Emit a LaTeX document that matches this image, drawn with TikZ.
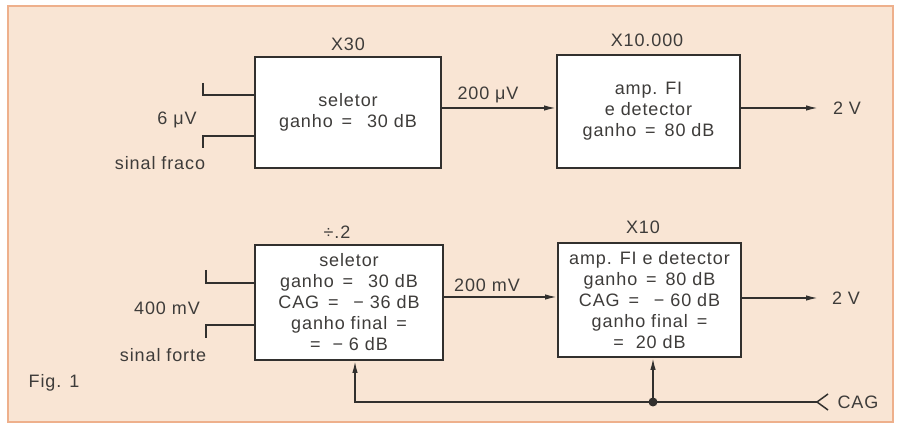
\documentclass[tikz,border=0pt]{standalone}
\usepackage{fontspec}
\setmainfont{Liberation Sans}[LetterSpace=5]
\usetikzlibrary{arrows.meta}
\definecolor{paper}{RGB}{249,229,212}
\definecolor{frame}{RGB}{238,176,140}
\definecolor{ink}{RGB}{50,48,46}
\definecolor{txt}{RGB}{62,60,58}
\tikzset{
  blk/.style={draw=ink, line width=2pt, fill=white, align=center, text=txt,
    inner sep=0pt, font=\fontsize{18}{21}\selectfont},
  lbl/.style={text=txt, font=\fontsize{18}{21}\selectfont, inner sep=0pt},
  wire/.style={draw=ink, line width=1.5pt},
  arr/.style={wire, -{Latex[length=12pt,width=5.5pt]}},
}
\begin{document}
\begin{tikzpicture}[x=1pt,y=-1pt]
\useasboundingbox (0,0) rectangle (897,427);
\fill[white] (0,0) rectangle (897,427);
\draw[frame, fill=paper, line width=1.2pt] (8,6) rectangle (893,422);

% top row
\node[blk, minimum width=186pt, minimum height=111pt] (b1) at (348,112.5)
  {seletor\\ganho \,=\, \ 30 dB};
\node[blk, minimum width=183pt, minimum height=113pt] (b2) at (648.5,111.5)
  {amp. FI\\e detector\\ganho \,=\, 80 dB};
\node[lbl] (g1) at (348,44) {X30};
\node[lbl] (g2) at (647,40) {X10.000};

\coordinate (ya) at (0,108);
\draw[arr] (b1.east |- ya) -- (b2.west |- ya);
\node[lbl] (v1) at (488,95) {200 μV};
\coordinate (o1) at (818,108);
\draw[arr] (b2.east |- o1) -- (o1);
\node[lbl] (o1t) at (847,108) {2 V};

\coordinate (i1a) at (203,83);
\coordinate (i1b) at (203,95);
\coordinate (i1c) at (203,148);
\coordinate (i1d) at (203,136);
\draw[wire] (i1a) -- (i1b) -- (b1.west |- i1b);
\draw[wire] (i1c) -- (i1d) -- (b1.west |- i1d);
\node[lbl] (s1) at (177,120) {6 μV};
\node[lbl] (s1b) at (160,163) {sinal fraco};

% bottom row
\node[blk, minimum width=188pt, minimum height=115pt] (b3) at (349,302.5)
  {seletor\\ganho \,=\, \ 30 dB\\CAG \,=\, \ − 36 dB\\ganho final \,=\\= \ − 6 dB};
\node[blk, minimum width=183pt, minimum height=114pt] (b4) at (649.5,300)
  {amp. FI e detector\\ganho \,=\, 80 dB\\CAG \,=\, \ − 60 dB\\ganho final \,=\\= \ 20 dB};
\node[lbl] (g3) at (337,232) {÷.2};
\node[lbl] (g4) at (643,227) {X10};

\coordinate (yb) at (0,297);
\draw[arr] (b3.east |- yb) -- (b4.west |- yb);
\node[lbl] (v2) at (487,285) {200 mV};
\coordinate (o2) at (818,298);
\draw[arr] (b4.east |- o2) -- (o2);
\node[lbl] (o2t) at (846,298) {2 V};

\coordinate (i2a) at (206,270);
\coordinate (i2b) at (206,283);
\coordinate (i2c) at (206,338);
\coordinate (i2d) at (206,325);
\draw[wire] (i2a) -- (i2b) -- (b3.west |- i2b);
\draw[wire] (i2c) -- (i2d) -- (b3.west |- i2d);
\node[lbl] (s2) at (167,308) {400 mV};
\node[lbl] (s2b) at (163,355) {sinal forte};

% CAG feedback
\coordinate (ct) at (817,402);
\coordinate (j) at (653,402);
\coordinate (fc) at (355,402);
\draw[arr] (ct) -- (fc) -- (b3.south -| fc);
\draw[arr] (j) -- (b4.south -| j);
\fill[ink] (j) circle (4.5pt);
\draw[wire] (828,394) -- (ct) -- (828,410);
\node[lbl] (cag) at (858,402) {CAG};

\node[lbl] (fig) at (54,383) {Fig. 1};
\end{tikzpicture}
\end{document}
